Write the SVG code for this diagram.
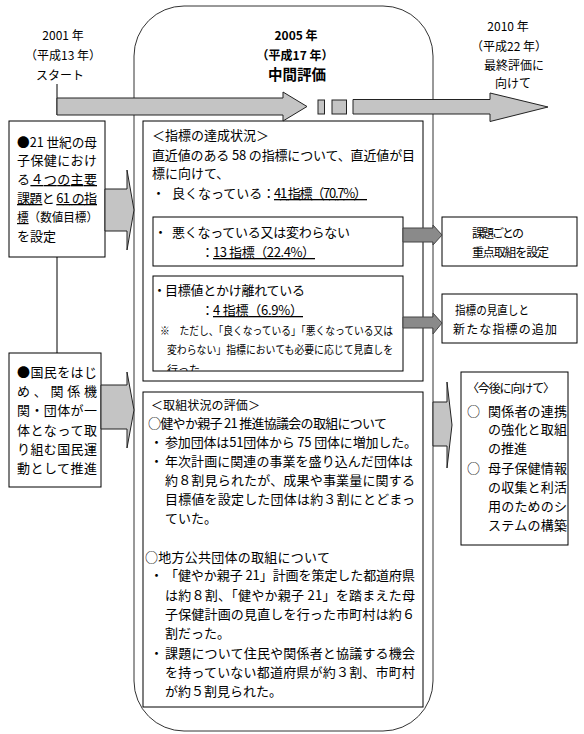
<svg xmlns="http://www.w3.org/2000/svg" width="584" height="734" viewBox="0 0 584 734">
<style>
text{font-family:"Noto Sans CJK JP","Noto Sans",sans-serif;fill:#000;}
.t13{font-size:13px}
.t12{font-size:12px}
.t11{font-size:11px}
.b{font-weight:bold}
.mid{text-anchor:middle}
.box{fill:#fff;stroke:#000;stroke-width:1}
.arr{fill:#c4c4c4;stroke:#222;stroke-width:1}
.darr{fill:#8a8a8a;stroke:#444;stroke-width:1}
.u{text-decoration:underline}
</style>
<defs>
<clipPath id="clipC"><rect x="153" y="276" width="250" height="95"/></clipPath>
</defs>
<rect x="0" y="0" width="584" height="734" fill="#fff"/>

<g id="midterm-frame">
<rect x="134" y="6" width="299" height="725" rx="50" ry="50" fill="none" stroke="#333" stroke-width="1"/>
</g>

<g id="label-2001">
<text class="t12 mid" x="63" y="40">2001 年</text>
<text class="t12 mid" x="63" y="60">（平成13 年）</text>
<text class="t12 mid" x="60" y="80">スタート</text>
</g>

<g id="label-2005">
<text class="t12 b mid" x="296" y="40">2005 年</text>
<text class="t12 b mid" x="295" y="60">（平成17 年）</text>
<text class="b mid" style="font-size:14.5px" x="297" y="80">中間評価</text>
</g>

<g id="label-2010">
<text class="t12 mid" x="508" y="31">2010 年</text>
<text class="t12 mid" x="509" y="51">（平成22 年）</text>
<text class="t12 mid" x="514" y="70">最終評価に</text>
<text class="t12 mid" x="513" y="88">向けて</text>
</g>

<g id="box-goals">
<rect class="box" x="9" y="121" width="96" height="136"/>
<text class="t13" x="17" y="147" textLength="80" lengthAdjust="spacingAndGlyphs">●21 世紀の母</text>
<text class="t13" x="17" y="165" textLength="80" lengthAdjust="spacing">子保健におけ</text>
<text class="t13" x="17" y="184" textLength="80" lengthAdjust="spacing">る<tspan class="u">４つの主要</tspan></text>
<text class="t13" x="17" y="203" textLength="80" lengthAdjust="spacing"><tspan class="u">課題</tspan>と <tspan class="u">61 の指</tspan></text>
<text class="t12" x="17" y="222" textLength="81" lengthAdjust="spacingAndGlyphs"><tspan class="u">標</tspan>（数値目標）</text>
<text class="t13" x="17" y="241">を設定</text>
</g>

<g id="box-movement">
<rect class="box" x="9" y="353" width="92" height="134"/>
<text class="t13" x="17" y="377" textLength="80" lengthAdjust="spacing">●国民をはじ</text>
<text class="t13" x="17" y="396" textLength="80" lengthAdjust="spacing">め、関係機</text>
<text class="t13" x="17" y="415" textLength="80" lengthAdjust="spacing">関・団体が一</text>
<text class="t13" x="17" y="435" textLength="80" lengthAdjust="spacing">体となって取</text>
<text class="t13" x="17" y="454" textLength="80" lengthAdjust="spacing">り組む国民運</text>
<text class="t13" x="17" y="473" textLength="80" lengthAdjust="spacing">動として推進</text>
</g>

<g id="box-achievement">
<rect class="box" x="143" y="121" width="280" height="260"/>
<text class="t13" x="152" y="140">＜指標の達成状況＞</text>
<text class="t13" x="152" y="160" textLength="263" lengthAdjust="spacing">直近値のある 58 の指標について、直近値が目</text>
<text class="t13" x="152" y="178">標に向けて、</text>
<text class="t13" x="152" y="198">・</text>
<text class="t13" x="172" y="198">良くなっている：</text>
<text class="t13 u" x="274" y="198" textLength="93" lengthAdjust="spacing">41 指標（70.7%）</text>
</g>

<g id="box-worse">
<rect class="box" x="153" y="217" width="250" height="49"/>
<text class="t13" x="154" y="237">・</text>
<text class="t13" x="172" y="237" textLength="178" lengthAdjust="spacing">悪くなっている又は変わらない</text>
<text class="t13" x="201" y="257">：</text>
<text class="t13 u" x="213" y="257" textLength="102" lengthAdjust="spacing">13 指標（22.4%）</text>
</g>

<g id="box-far">
<rect class="box" x="153" y="276" width="250" height="95"/>
<text class="t13" x="153" y="295">・</text>
<text class="t13" x="165" y="295" textLength="140" lengthAdjust="spacing">目標値とかけ離れている</text>
<text class="t13" x="201" y="315">：</text>
<text class="t13 u" x="213" y="315" textLength="90" lengthAdjust="spacing">4 指標（6.9%）</text>
<g clip-path="url(#clipC)">
<text class="t11" x="160" y="335" textLength="233" lengthAdjust="spacingAndGlyphs">※　ただし、「良くなっている」「悪くなっている又は</text>
<text class="t11" x="167" y="354" textLength="226" lengthAdjust="spacingAndGlyphs">変わらない」指標においても必要に応じて見直しを</text>
<text class="t11" x="167" y="374">行った。</text>
</g>
</g>

<g id="box-priority">
<rect class="box" x="442" y="217" width="135" height="49"/>
<text class="t12" x="472" y="238" textLength="52" lengthAdjust="spacing">課題ごとの</text>
<text class="t12" x="472" y="257" textLength="77" lengthAdjust="spacing">重点取組を設定</text>
</g>

<g id="box-review">
<rect class="box" x="442" y="294" width="135" height="49"/>
<text class="t12" x="455" y="315" textLength="74" lengthAdjust="spacingAndGlyphs">指標の見直しと</text>
<text class="t12" x="453" y="334" textLength="104" lengthAdjust="spacing">新たな指標の追加</text>
</g>

<g id="box-evaluation">
<rect class="box" x="143" y="392" width="280" height="315"/>
<text class="t12" x="151" y="410" textLength="109" lengthAdjust="spacing">＜取組状況の評価＞</text>
<text class="t13" x="148" y="428" textLength="239" lengthAdjust="spacing">○健やか親子 21 推進協議会の取組について</text>
<text class="t13" x="150" y="447">・</text>
<text class="t13" x="165" y="447" textLength="252" lengthAdjust="spacing">参加団体は51団体から 75 団体に増加した。</text>
<text class="t13" x="150" y="466">・</text>
<text class="t13" x="165" y="466" textLength="248" lengthAdjust="spacing">年次計画に関連の事業を盛り込んだ団体は</text>
<text class="t13" x="165" y="485" textLength="250" lengthAdjust="spacing">約８割見られたが、成果や事業量に関する</text>
<text class="t13" x="165" y="504" textLength="250" lengthAdjust="spacing">目標値を設定した団体は約３割にとどまっ</text>
<text class="t13" x="165" y="523">ていた。</text>
<text class="t13" x="145" y="562" textLength="185" lengthAdjust="spacing">○地方公共団体の取組について</text>
<text class="t13" x="150" y="580">・</text>
<text class="t13" x="165" y="580" textLength="250" lengthAdjust="spacing">「健やか親子 21」計画を策定した都道府県</text>
<text class="t13" x="165" y="600" textLength="250" lengthAdjust="spacing">は約８割、「健やか親子 21」を踏まえた母</text>
<text class="t13" x="165" y="619" textLength="250" lengthAdjust="spacing">子保健計画の見直しを行った市町村は約６</text>
<text class="t13" x="165" y="638">割だった。</text>
<text class="t13" x="150" y="658">・</text>
<text class="t13" x="165" y="658" textLength="250" lengthAdjust="spacing">課題について住民や関係者と協議する機会</text>
<text class="t13" x="165" y="677" textLength="250" lengthAdjust="spacing">を持っていない都道府県が約３割、市町村</text>
<text class="t13" x="165" y="696">が約５割見られた。</text>
</g>

<g id="box-future">
<rect class="box" x="461" y="372" width="107" height="173"/>
<text class="t12" x="467" y="393" textLength="88" lengthAdjust="spacing">〈今後に向けて〉</text>
<text class="t13" x="467" y="416">○</text>
<text class="t13" x="488" y="416" textLength="79" lengthAdjust="spacing">関係者の連携</text>
<text class="t13" x="488" y="434" textLength="79" lengthAdjust="spacing">の強化と取組</text>
<text class="t13" x="488" y="453">の推進</text>
<text class="t13" x="467" y="473">○</text>
<text class="t13" x="488" y="473" textLength="79" lengthAdjust="spacing">母子保健情報</text>
<text class="t13" x="488" y="492" textLength="79" lengthAdjust="spacing">の収集と利活</text>
<text class="t13" x="488" y="511" textLength="79" lengthAdjust="spacing">用のためのシ</text>
<text class="t13" x="488" y="530" textLength="79" lengthAdjust="spacing">ステムの構築</text>
</g>

<g id="connectors">
<line x1="57" y1="84" x2="57" y2="115" stroke="#000" stroke-width="1"/>
<line x1="57" y1="257" x2="57" y2="353" stroke="#000" stroke-width="1"/>
<polygon class="arr" points="57,98 283,98 283,92 307,106.5 283,121 283,115 57,115"/>
<rect class="arr" x="318" y="100" width="6.5" height="14"/>
<rect class="arr" x="332" y="100" width="14.5" height="14"/>
<polygon class="arr" points="353,99.5 490,99.5 490,93 548,107 490,121.5 490,114 353,114"/>
<polygon class="arr" points="105,189 127,189 127,170 134,210 127,250 127,231 105,231"/>
<polygon class="arr" points="101,385 127,385 127,372 134,410 127,448 127,429 101,429"/>
<polygon class="darr" points="403,228 433,228 433,225 442,235 433,245 433,242 403,242"/>
<polygon class="darr" points="403,317 433,317 433,313 442,323 433,334 433,328 403,328"/>
<polygon class="arr" points="433,402 447,402 447,382 452,425 447,468 447,446 433,446"/>
</g>
</svg>
